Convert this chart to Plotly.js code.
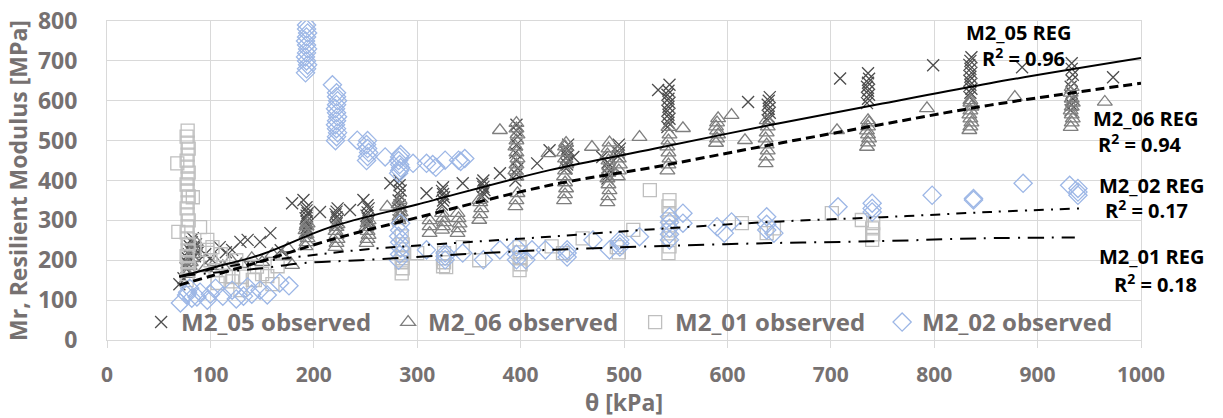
<!DOCTYPE html>
<html>
<head>
<meta charset="utf-8">
<script src="https://cdn.plot.ly/plotly-3.0.1.min.js"></script>
<style>html,body{margin:0;padding:0;background:#fff;}#chart{width:1223px;height:418px;}</style>
</head>
<body>
<div id="chart"></div>
<script>
const m205_x = [70,74,76,77,78,79,80,80,81,82,83,84,85,86,88,
  95,100,109,115,121,129,136,148,158,168,179,190,206,
  192,193,193,194,193,192,193,194,193,193,
  221,222,223,222,221,222,223, 235,248,
  251,252,253,252,251,252,253,252, 274,
  282,283,284,283,282,283,284,283,283, 309,
  324,325,326,325,324,325, 344,
  363,364,365,364,363,364, 380,
  395,396,397,396,395,396,397,396,396, 416,428,
  444,445,446,445,444,445,446, 451,479,
  484,485,486,485,484, 494,495,496,495, 533,
  542,543,544,543,542,543,544,543,542,543,544, 620,
  639,640,641,640,639,640,641, 709,
  735,736,737,736,735,736,737,736, 799,885,
  834,835,836,835,834,835,836,835,834,835,836,
  932,933,934,933,932,933,934,933,933, 973];
const m205_y = [140,155,180,195,205,215,225,235,200,245,255,230,210,240,220,
  215,205,233,220,226,246,251,246,268,225,343,351,321,
  268,275,282,290,297,305,312,318,325,333,
  285,292,300,308,315,322,330, 326,351,
  283,290,298,305,312,320,330,338, 393,
  300,312,325,338,350,362,375,388,400, 368,
  340,350,358,366,374,383, 393,
  360,368,376,384,392,400, 418,
  400,415,430,450,470,490,510,525,540, 443,476,
  430,440,450,460,470,480,490, 459,459,
  405,415,425,435,445, 460,470,480,490, 627,
  534,545,555,565,575,585,595,605,615,625,640, 597,
  551,560,570,580,590,600,609, 656,
  594,605,615,625,635,645,655,669, 689,684,
  609,620,630,640,650,660,670,680,690,700,709,
  576,590,605,620,635,650,665,680,694, 659];

const m206_x = [78,79,80,81,82,83,84,85,86,
  95,105,112,120,130,140,150,160,170,179,175,
  192,193,194,193,192,193,194,
  221,222,223,222,221,222,223,
  251,252,253,252,251,252,253,
  282,283,284,283,282,283, 271,
  312,312,312, 324,325,326,325,324, 339,340,341,340,339,
  360,361,362,361,360, 380,
  395,396,397,396,395,396,397,396,395,396,397,396,396, 427,
  442,443,444,443,442,443,444,443,442,443,444, 469,
  484,485,486,485,484,485,486,485,484,485,486,
  494,495,496,495,494, 515,557,
  542,543,544,543,542,543,544,543,
  589,590,591,590,589,590,591, 604,617,
  637,638,639,638,637,638,639,638, 706,
  735,736,737,736,735,736,737,736, 793,878,
  834,835,836,835,834,835,836,835,835,
  932,933,934,933,932,933,934,933,932,933, 965];
const m206_y = [165,175,185,195,205,215,225,235,245,
  180,195,185,200,190,205,195,215,210,188,230,
  235,245,255,265,275,285,292,
  233,243,253,263,273,283,290,
  243,253,263,273,283,293,300,
  300,310,320,330,340,351, 334,
  268,285,300, 276,285,295,305,318, 268,280,292,305,318,
  301,315,330,345,351, 526,
  335,350,368,409,425,440,455,470,485,500,515,530,544, 468,
  350,365,380,395,410,425,440,455,470,485,494, 484,
  345,360,375,390,405,420,435,450,465,480,495,
  410,425,440,455,470, 509,531,
  425,440,455,470,485,500,515,534,
  494,505,515,525,535,545,556, 564,501,
  443,460,475,490,505,520,535,551, 526,
  484,495,505,515,525,535,545,551, 581,609,
  526,535,545,555,565,575,585,595,601,
  534,545,555,565,575,585,595,605,620,634, 597];

const m201_x = [77,78,79,78,77,78,79,78,77,78,79,78,77,78,79,78,77,78,79,78,77,78,79,78,77,78,
  69,83,90,68,
  97,97,100,105,107,115,121,130,141,145,155,160,165,125,110,102,122,129,143,150,
  285,286,285,286,285,286,285, 300,
  325,326,325,326, 344, 360,328,
  399,400,399,400,399, 430,441,460,493,495,509,525,
  543,544,543,544,543,544,543,544,
  614,638,645,701,730, 740,741,740,741];
const m201_y = [150,165,180,195,210,225,240,255,270,285,300,315,330,345,360,375,390,405,420,435,450,465,480,495,510,525,
  271,358,283,443,
  251,226,200,175,143,160,147,159,151,184,160,140,185,200,215,233,158,125,150,165,
  167,180,195,205,218,240,260, 218,
  185,195,205,218, 233, 200,183,
  175,190,205,220,233, 235,218,255,233,220,276,376,
  218,235,255,275,295,315,335,351,
  293,268,280,318,301, 251,265,280,293];

const m202_x = [71,77,78,80,82,87,97,100,112,121,132,136,148,155,167,176,90,105,125,140,
  192,193,194,193,192,193,194,193,192,193,194,193,193,
  218, 221,222,223,222,221,222,223,222,221,222,223,222,222,
  242, 251,252,253,252,251,252, 269,
  282,283,284,283,282,283,284, 282,283,284,283,282,283,284,
  296,309,315,318,327,340,346,342,
  309,327,327,327,344,364,380,396,396,396,405,411,424,445,445,445,470,486,496,496,496,515,
  544,544,544,544,544,557,557,590,597,604,638,638,638,645,707,740,740,740,798,838,838,886,931,939,939,939];
const m202_y = [93,113,120,130,105,108,100,115,110,125,110,133,125,113,143,136,120,130,103,115,
  670,680,690,700,710,720,730,740,750,760,770,780,790,
  640, 500,510,520,530,540,550,560,570,580,590,600,610,620,
  501, 450,460,470,480,490,500, 459,
  418,425,432,440,450,459,465, 200,215,230,245,260,275,293,
  443,443,440,433,451,451,455,448,
  226,201,210,218,218,201,226,201,215,233,201,226,226,208,218,226,251,226,233,242,251,259,
  251,265,280,295,309,318,293,284,268,296,276,290,309,268,334,321,330,343,363,351,355,393,388,363,371,380];

// ---- regression curves ----
const reg05_x = [70,100,150,216,300,428,530,641,750,854,1000];
const reg05_y = [158,180,215,283,340,426,480,539,593,644,707];
const reg06_x = [70,100,150,216,300,428,530,641,750,854,1000];
const reg06_y = [138,160,198,251,307,388,434,489,541,589,644];
const reg02_x = [70,100,150,245,330,428,530,641,750,854,940];
const reg02_y = [160,177,197,226,242,259,278,296,308,321,330];
const reg01_x = [70,100,150,190,245,330,428,530,641,750,844,936];
const reg01_y = [160,168,180,193,200,213,226,235,243,248,255,257];

const series_names = ['M2_05 observed','M2_06 observed','M2_01 observed','M2_02 observed'];
const reg_labels = ['M2_05 REG','M2_06 REG','M2_02 REG','M2_01 REG'];
const reg_r2 = ['0.96','0.94','0.17','0.18'];
const x_ticks = [0,100,200,300,400,500,600,700,800,900,1000];
const y_ticks = [0,100,200,300,400,500,600,700,800];

const FONT = '"Open Sans", "Noto Sans", sans-serif';
const GREY = '#767171';
const b = s => '<b>' + s + '</b>';

function obs(x, y, name, symbol, color, size) {
  return {x: x, y: y, name: b(name), type: 'scatter', mode: 'markers',
    marker: {symbol: symbol, size: size, color: color, line: {color: color, width: 1.3}},
    hoverinfo: 'skip'};
}
function reg(x, y, dash, width) {
  return {x: x, y: y, type: 'scatter', mode: 'lines', showlegend: false,
    line: {color: '#000', width: width, dash: dash, shape: 'spline'}, hoverinfo: 'skip'};
}

const traces = [
  obs(m205_x, m205_y, series_names[0], 'x-thin-open', '#4d4d4d', 12),
  obs(m206_x, m206_y, series_names[1], 'triangle-up-open', '#7f7f7f', 13),
  obs(m201_x, m201_y, series_names[2], 'square-open', '#bfbfbf', 13),
  obs(m202_x, m202_y, series_names[3], 'diamond-open', '#9db7e6', 14),
  reg(reg05_x, reg05_y, 'solid', 2),
  reg(reg06_x, reg06_y, '9px,5px', 3),
  reg(reg02_x, reg02_y, '10px,7px,2px,7px', 2),
  reg(reg01_x, reg01_y, '16px,8px,2px,8px', 2)
];

// annotation positions: x in paper fraction, y in data units
const ann_pos = [
  [0.882, 771, 0.886, 708],
  [1.004, 556, 0.999, 493],
  [1.010, 388, 1.005, 327],
  [1.010, 210, 1.014, 142]
];
const annotations = [];
for (let i = 0; i < 4; i++) {
  annotations.push({xref: 'paper', yref: 'y', x: ann_pos[i][0], y: ann_pos[i][1], xanchor: 'center', yanchor: 'middle',
    text: b(reg_labels[i]), showarrow: false, font: {family: FONT, size: 20, weight: 'bold', color: '#000'}});
  annotations.push({xref: 'paper', yref: 'y', x: ann_pos[i][2], y: ann_pos[i][3], xanchor: 'center', yanchor: 'middle',
    text: b('R<sup>2</sup> = ' + reg_r2[i]), showarrow: false, font: {family: FONT, size: 20, weight: 'bold', color: '#000'}});
}

const layout = {
  width: 1223, height: 418,
  margin: {l: 107, r: 82, t: 21, b: 78, pad: 0},
  paper_bgcolor: '#fff', plot_bgcolor: '#fff',
  showlegend: true,
  legend: {orientation: 'h', x: 0.033, xanchor: 'left', y: 0.055, yanchor: 'middle',
    bgcolor: 'rgba(0,0,0,0)', entrywidth: 202, entrywidthmode: 'pixels', itemwidth: 30,
    font: {family: FONT, size: 24, weight: 'bold', color: GREY}},
  xaxis: {range: [0, 1000], tickmode: 'array', tickvals: x_ticks, ticktext: x_ticks.map(v => b(v)),
    showgrid: true, gridcolor: '#d9d9d9', gridwidth: 1,
    zeroline: false, showline: true, linecolor: '#d9d9d9', linewidth: 1, mirror: true,
    ticks: 'outside', ticklen: 7, tickcolor: '#d9d9d9', ticklabelstandoff: 9,
    tickfont: {family: FONT, size: 21, weight: 'bold', color: GREY},
    title: {text: b('θ [kPa]'), standoff: 10, font: {family: FONT, size: 23, weight: 'bold', color: GREY}}},
  yaxis: {range: [0, 800], tickmode: 'array', tickvals: y_ticks, ticktext: y_ticks.map(v => b(v)),
    showgrid: true, gridcolor: '#d9d9d9', gridwidth: 1,
    zeroline: false, showline: true, linecolor: '#d9d9d9', linewidth: 1, mirror: true,
    ticks: '', ticklabelstandoff: 24,
    tickfont: {family: FONT, size: 23, weight: 'bold', color: GREY},
    title: {text: b('Mr, Resilient Modulus [MPa]'), standoff: 3, font: {family: FONT, size: 23, weight: 'bold', color: GREY}}},
  annotations: annotations
};

Plotly.newPlot('chart', traces, layout, {staticPlot: true, displayModeBar: false});
</script>
</body>
</html>
